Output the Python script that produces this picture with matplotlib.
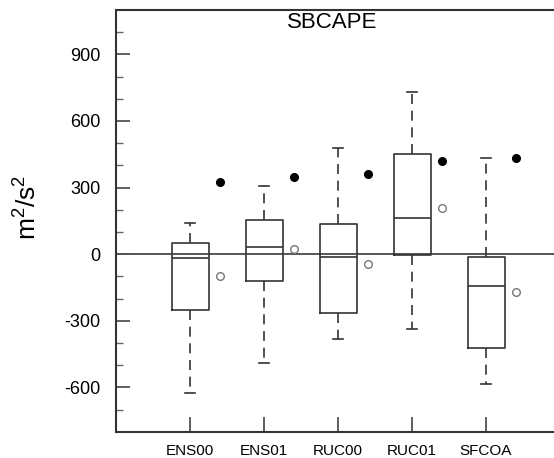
import matplotlib
matplotlib.use("Agg")
import matplotlib.pyplot as plt

categories = ["ENS00", "ENS01", "RUC00", "RUC01", "SFCOA"]
whislo = [-624, -492, -384, -338, -587]
q1 = [-253, -122, -266, -4, -423]
med = [-18, 34, -15, 165, -143]
q3 = [48, 153, 138, 451, -12]
whishi = [142, 305, 478, 732, 433]
filled_pts = [327, 346, 361, 418, 433]
open_pts = [-98, 24, -45, 208, -169]
yticks = [-600, -300, 0, 300, 600, 900]

plt.rcParams['font.family'] = ['Liberation Sans', 'DejaVu Sans']
plt.rcParams['mathtext.fontset'] = 'custom'
plt.rcParams['mathtext.rm'] = 'Liberation Sans'
plt.rcParams['mathtext.it'] = 'Liberation Sans'

fig = plt.figure(figsize=(5.54, 4.58), dpi=100)
W, H = 554, 458
left, right, top, bottom = 116, 560, 10, 431.7
ax = fig.add_axes([left / W, (H - bottom) / H, (right - left) / W, (bottom - top) / H])

pos = list(range(1, len(categories) + 1))
stats = []
for i in range(len(categories)):
    stats.append(dict(med=med[i], q1=q1[i], q3=q3[i], whislo=whislo[i],
                      whishi=whishi[i], fliers=[], label=categories[i]))

box_col = "#333333"
ax.bxp(stats, positions=pos, widths=0.5, showfliers=False, capwidths=0.14,
       boxprops=dict(color=box_col, linewidth=1.2),
       medianprops=dict(color=box_col, linewidth=1.2),
       whiskerprops=dict(color=box_col, linewidth=1.2, linestyle=(0, (6, 4))),
       capprops=dict(color=box_col, linewidth=1.2), zorder=3)

ax.axhline(0, color="#555555", linewidth=1.4, zorder=2)

off = [p + 0.4 for p in pos]
ax.plot(off, filled_pts, linestyle="none", marker="o", markersize=5.5,
        color="black", zorder=4)
ax.plot(off, open_pts, linestyle="none", marker="o", markersize=5.5,
        markerfacecolor="white", markeredgecolor="#777777", markeredgewidth=1.0, zorder=4)

ax.set_xlim(0, 6)
ax.set_ylim(-800, 1100)
ax.set_xticks(pos)
ax.set_xticklabels(categories, fontsize=11)
ax.set_yticks(yticks)
ax.set_yticklabels([str(v) for v in yticks], fontsize=13)
ax.set_yticks(range(-700, 1100, 100), minor=True)
ax.tick_params(axis="y", which="major", direction="in", length=10, width=1.2,
               color="#444444", pad=11)
ax.tick_params(axis="y", which="minor", direction="in", length=5, width=1.0,
               color="#666666")
ax.tick_params(axis="x", which="major", direction="in", length=11, width=1.2,
               color="#444444", pad=9)
ax.tick_params(axis="x", which="minor", length=0)

for s in ["top", "left", "bottom"]:
    ax.spines[s].set_color("#333333")
    ax.spines[s].set_linewidth(1.5)
ax.spines["right"].set_visible(False)

ax.set_ylabel("m$^2$/s$^2$", fontsize=19)
ax.yaxis.set_label_coords((42 - left) / (right - left), (bottom - 207) / (bottom - top))
fig.text(332 / W, 1 - 23 / H, "SBCAPE", ha="center", va="center", fontsize=16)

fig.savefig("out.png", dpi=100)
